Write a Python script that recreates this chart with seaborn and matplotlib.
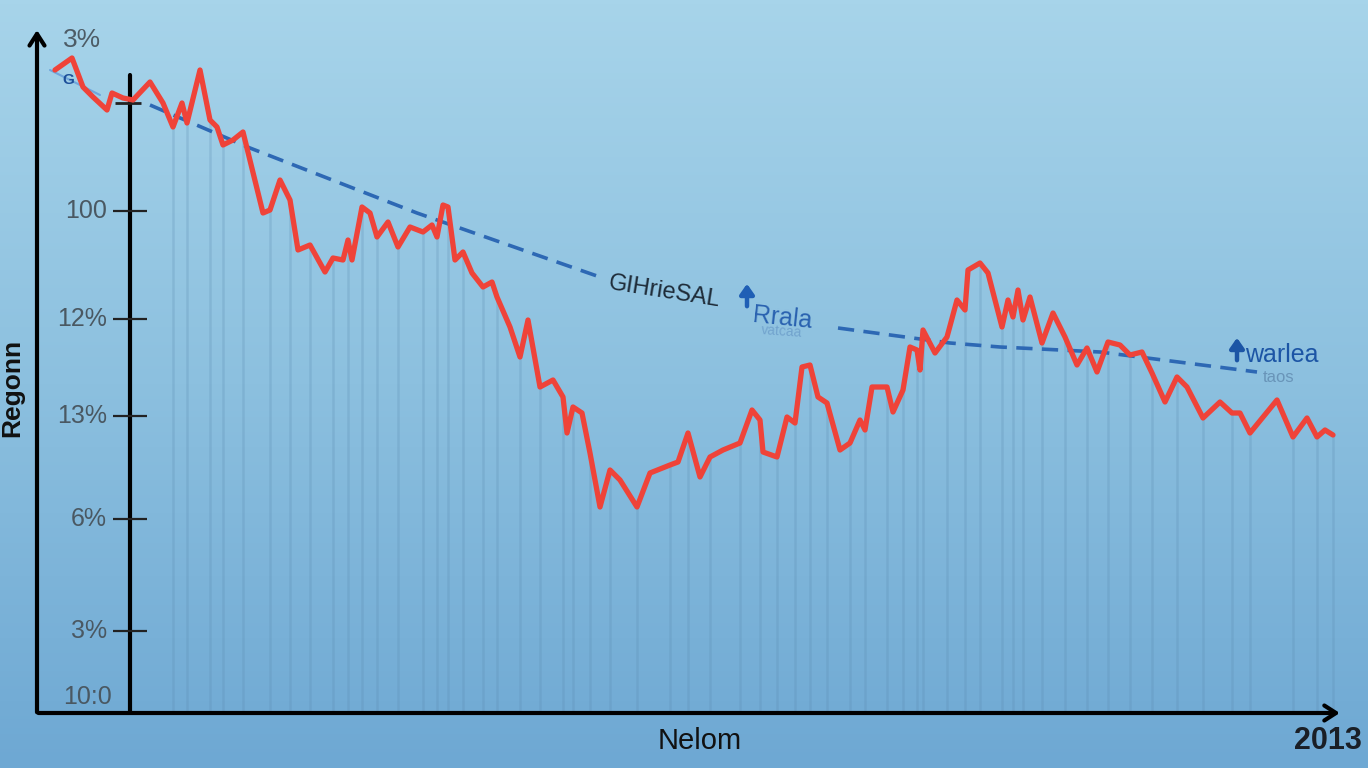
import numpy as np
import matplotlib
matplotlib.use("Agg")
import matplotlib.pyplot as plt
import seaborn as sns
from matplotlib.colors import LinearSegmentedColormap

sns.set_theme(style="white")
plt.rcParams['font.family'] = ['Liberation Sans', 'DejaVu Sans']

# ---------------- data ----------------
day = [18, 35, 46, 56, 70, 75, 86, 96, 113, 126, 136, 145, 150, 163, 173, 180, 186, 196, 206,
       226, 233, 243, 253, 261, 273, 288, 296, 306, 311, 315, 325, 333, 340, 351, 361, 373,
       386, 395, 400, 406, 411, 418, 426, 435, 446, 455, 460, 473, 483, 491, 503, 516, 526,
       530, 536, 545, 553, 563, 573, 583, 600, 613, 633, 641, 651, 663, 673, 686, 703, 715,
       723, 726, 740, 750, 758, 765, 773, 781, 790, 803, 813, 823, 828, 835, 850, 856, 866,
       873, 880, 883, 886, 898, 910, 920, 928, 931, 943, 951, 965, 971, 976, 981, 986, 993,
       1005, 1016, 1028, 1040, 1050, 1060, 1071, 1083, 1093, 1105, 1115, 1128, 1140, 1150,
       1166, 1183, 1195, 1203, 1213, 1240, 1256, 1270, 1280, 1288, 1296]
value = [643, 655, 626, 616, 603, 620, 615, 613, 631, 610, 586, 610, 590, 643, 593, 586, 568, 573, 581,
         500, 503, 533, 513, 463, 468, 441, 455, 453, 473, 453, 506, 500, 476, 491, 466, 486,
         481, 488, 476, 508, 506, 453, 461, 440, 426, 431, 416, 386, 356, 393, 326, 333, 316,
         280, 306, 300, 260, 206, 243, 233, 206, 240, 248, 251, 280, 236, 256, 263, 270, 303,
         293, 261, 256, 296, 290, 346, 348, 316, 310, 263, 270, 293, 283, 326, 326, 301, 323,
         366, 363, 343, 383, 360, 376, 413, 403, 443, 450, 440, 386, 413, 396, 423, 393, 416,
         370, 400, 376, 348, 365, 341, 371, 368, 358, 361, 340, 311, 336, 326,
         295, 311, 300, 300, 280, 313, 276, 295, 276, 283, 278]

trend_day_a = [113, 213, 380, 560]
trend_val_a = [608, 565, 500, 437]
trend_day_b = [801, 913, 963, 1063, 1220]
trend_val_b = [385, 370, 366, 361, 341]
faint_day = [13, 63]
faint_val = [643, 618]

tick_values = [502, 394, 297, 194, 82, 16]
tick_labels = ["100", "12%", "13%", "6%", "3%", "10:0"]
top_label = "3%"
inner_axis_day = 93
x_label = "Nelom"
y_label = "Regonn"
end_label = "2013"

W, H = 1368, 768
fig = plt.figure(figsize=(W / 100, H / 100), dpi=100)

# background gradient
bg = fig.add_axes([0, 0, 1, 1])
cmap = LinearSegmentedColormap.from_list("sky", ["#6ea8d3", "#8cc0df", "#a7d4ea"])
grad = np.linspace(0, 1, 256).reshape(-1, 1)
bg.imshow(grad, aspect="auto", cmap=cmap, origin="lower", extent=[0, 1, 0, 1])
bg.axis("off")

ax = fig.add_axes([37 / W, 55 / H, 1303 / W, 683 / H])
ax.set_facecolor("none")
ax.set_xlim(0, 1303)
ax.set_ylim(0, 683)
for s in ax.spines.values():
    s.set_visible(False)
ax.set_xticks([])
ax.set_yticks([])

# faint vertical drop lines
sel = list(range(10, len(day), 2))
ax.vlines([day[i] for i in sel], 0, [value[i] for i in sel], color="#5b8bb0", alpha=0.25, lw=1.8, zorder=1)

# axes arrows
ax.annotate("", xy=(0, 1.004), xytext=(0, -0.003), xycoords="axes fraction",
            arrowprops=dict(arrowstyle="->,head_length=0.7,head_width=0.45", lw=3.0, color="black"),
            annotation_clip=False)
ax.annotate("", xy=(1.002, 0), xytext=(-0.001, 0), xycoords="axes fraction",
            arrowprops=dict(arrowstyle="->,head_length=0.7,head_width=0.45", lw=3.0, color="black"),
            annotation_clip=False)
ax.axvline(inner_axis_day, ymin=0, ymax=0.934, color="black", lw=3.0, zorder=3)
ax.hlines(tick_values[:-1], 76, 110, color="#222222", lw=1.6, zorder=3)
ax.hlines([610], 78, 104, color="#222222", lw=2.0, zorder=3)

for v, lab in zip(tick_values, tick_labels):
    ax.text(70 if lab != "10:0" else 75, v, lab, ha="right", va="center", fontsize=18, color="#4a5862")

# trend lines
sns.lineplot(x=faint_day, y=faint_val, ax=ax, color="#6fa6dc", lw=1.5, estimator=None, zorder=2)
sns.lineplot(x=trend_day_a, y=trend_val_a, ax=ax, color="#2d68b4", lw=2.6, estimator=None,
             linestyle=(0, (4.5, 2.6)), zorder=2)
sns.lineplot(x=trend_day_b, y=trend_val_b, ax=ax, color="#2d68b4", lw=2.6, estimator=None,
             linestyle=(0, (4.5, 2.6)), zorder=2)

# main series
sns.lineplot(x=day, y=value, ax=ax, color="#ef4339", lw=3.8, estimator=None, zorder=4)

# annotations
ax.text(572, 430, "GIHrieSAL", ha="left", va="center", rotation=-9, rotation_mode="anchor",
        fontsize=17, color="#1e2b38")
arrow_kw = dict(arrowstyle="-|>,head_length=0.5,head_width=0.35", lw=3.2, color="#1f5fb5")
ax.annotate("", xy=(710, 432), xytext=(710, 404), arrowprops=arrow_kw)
ax.text(716, 398, "Rrala", ha="left", va="center", rotation=-6, rotation_mode="anchor",
        fontsize=18, color="#2a62b0")
ax.text(724, 383, "vatcaa", ha="left", va="center", rotation=-4, rotation_mode="anchor",
        fontsize=10, color="#4f7fb8", alpha=0.45)
ax.annotate("", xy=(1200, 378), xytext=(1200, 350), arrowprops=dict(arrow_kw, color="#1c55a5"))
ax.text(1208, 358, "warlea", ha="left", va="center", fontsize=18, color="#1c55a5")
ax.text(1226, 335, "taos", ha="left", va="center", fontsize=12, color="#52789f", alpha=0.6)
ax.text(31, 633, "G", ha="center", va="center", fontsize=11, fontweight="bold", color="#1d4f9a")

fig.text(82 / W, 1 - 40 / H, top_label, ha="center", va="center", fontsize=19, color="#4d5c66")
fig.text(12 / W, 1 - 388 / H, y_label, ha="center", va="center", rotation=90, fontsize=19,
         fontweight="bold", color="#111111")
fig.text(700 / W, 1 - 741 / H, x_label, ha="center", va="center", fontsize=21, color="#111111")
fig.text(1328 / W, 1 - 741 / H, end_label, ha="center", va="center", fontsize=22, fontweight="bold",
         color="#1a1f26")

fig.savefig("out.png", dpi=100)
